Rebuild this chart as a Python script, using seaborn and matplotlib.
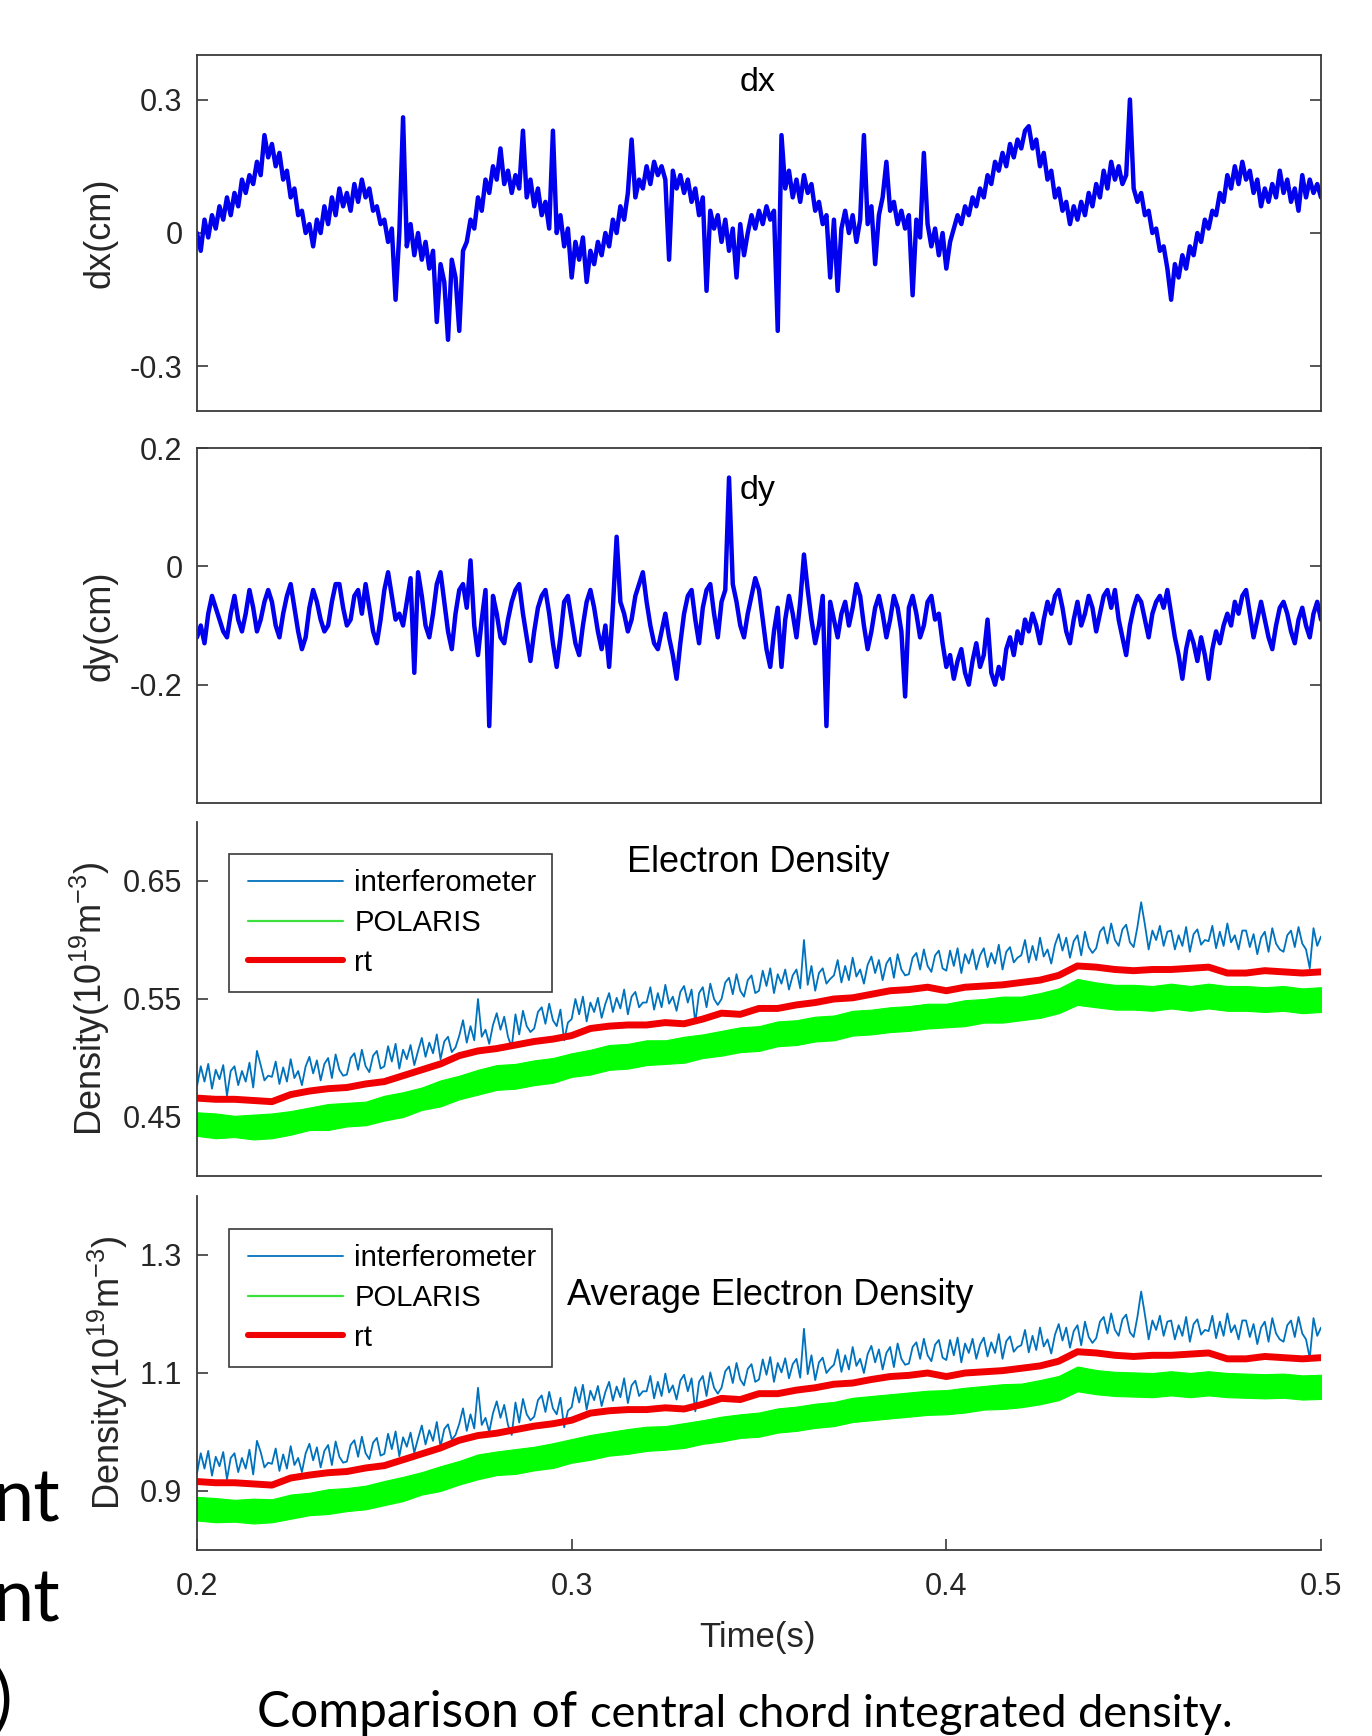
import numpy as np
import pandas as pd
import matplotlib
matplotlib.use("Agg")
import matplotlib.pyplot as plt
import seaborn as sns
from matplotlib.lines import Line2D
from matplotlib.legend_handler import HandlerLine2D

# ---------------- data ----------------
t_start, t_end = 0.2, 0.5

dx_cm = [
    0.00, -0.04, 0.03, -0.01, 0.04, 0.01, 0.06, 0.03, 0.08, 0.04,
    0.09, 0.06, 0.12, 0.09, 0.13, 0.11, 0.16, 0.13, 0.22, 0.17,
    0.20, 0.15, 0.18, 0.12, 0.14, 0.08, 0.10, 0.04, 0.05, 0.00,
    0.02, -0.03, 0.03, 0.00, 0.06, 0.02, 0.08, 0.04, 0.10, 0.06,
    0.09, 0.05, 0.11, 0.07, 0.12, 0.08, 0.10, 0.05, 0.06, 0.02,
    0.03, -0.02, 0.01, -0.15, 0.00, 0.26, -0.03, 0.02, -0.05, 0.00,
    -0.06, -0.02, -0.08, -0.04, -0.20, -0.07, -0.11, -0.24, -0.06, -0.10,
    -0.22, -0.04, -0.02, 0.03, 0.01, 0.08, 0.05, 0.12, 0.09, 0.15,
    0.12, 0.19, 0.11, 0.14, 0.09, 0.13, 0.10, 0.23, 0.08, 0.12,
    0.06, 0.10, 0.04, 0.07, 0.01, 0.23, 0.00, 0.04, -0.03, 0.01,
    -0.10, -0.02, -0.06, -0.01, -0.11, -0.04, -0.07, -0.02, -0.05, 0.00,
    -0.03, 0.03, 0.00, 0.06, 0.03, 0.09, 0.21, 0.08, 0.12, 0.10,
    0.15, 0.11, 0.16, 0.13, 0.15, 0.12, -0.06, 0.14, 0.10, 0.13,
    0.09, 0.12, 0.07, 0.10, 0.04, 0.08, -0.13, 0.05, 0.01, 0.04,
    -0.02, 0.03, -0.04, 0.01, -0.10, 0.02, -0.05, 0.00, 0.04, 0.01,
    0.05, 0.02, 0.06, 0.03, 0.05, -0.22, 0.22, 0.10, 0.14, 0.08,
    0.12, 0.07, 0.13, 0.09, 0.11, 0.05, 0.07, 0.02, 0.04, -0.10,
    0.03, -0.13, 0.01, 0.05, 0.00, 0.04, -0.02, 0.03, 0.22, 0.02,
    0.06, -0.07, 0.04, 0.08, 0.16, 0.05, 0.07, 0.02, 0.05, 0.01,
    0.04, -0.14, 0.03, -0.01, 0.18, 0.02, -0.03, 0.01, -0.05, 0.00,
    -0.08, -0.02, 0.01, 0.04, 0.02, 0.06, 0.04, 0.08, 0.06, 0.10,
    0.08, 0.13, 0.11, 0.16, 0.14, 0.18, 0.15, 0.20, 0.17, 0.21,
    0.19, 0.23, 0.24, 0.19, 0.21, 0.15, 0.18, 0.12, 0.14, 0.08,
    0.10, 0.05, 0.07, 0.02, 0.06, 0.03, 0.07, 0.04, 0.09, 0.06,
    0.11, 0.08, 0.14, 0.10, 0.16, 0.12, 0.15, 0.11, 0.13, 0.30,
    0.10, 0.07, 0.09, 0.04, 0.05, 0.00, 0.01, -0.04, -0.03, -0.08,
    -0.15, -0.07, -0.10, -0.05, -0.08, -0.03, -0.05, 0.00, -0.02, 0.03,
    0.01, 0.05, 0.04, 0.09, 0.07, 0.13, 0.10, 0.15, 0.11, 0.16,
    0.12, 0.14, 0.09, 0.12, 0.06, 0.10, 0.07, 0.11, 0.08, 0.14,
    0.09, 0.12, 0.07, 0.10, 0.05, 0.13, 0.08, 0.12, 0.09, 0.11,
    0.08,
]

dy_cm = [
    -0.12, -0.10, -0.13, -0.08, -0.05, -0.07, -0.09, -0.11, -0.12, -0.08,
    -0.05, -0.09, -0.11, -0.08, -0.04, -0.07, -0.11, -0.09, -0.06, -0.04,
    -0.06, -0.10, -0.12, -0.08, -0.05, -0.03, -0.07, -0.11, -0.14, -0.12,
    -0.07, -0.04, -0.06, -0.09, -0.11, -0.10, -0.06, -0.03, -0.03, -0.07,
    -0.10, -0.09, -0.05, -0.04, -0.08, -0.03, -0.07, -0.11, -0.13, -0.09,
    -0.04, -0.01, -0.05, -0.09, -0.08, -0.10, -0.06, -0.02, -0.18, -0.01,
    -0.05, -0.10, -0.12, -0.08, -0.03, -0.01, -0.06, -0.11, -0.14, -0.08,
    -0.04, -0.03, -0.07, 0.01, -0.10, -0.15, -0.09, -0.04, -0.27, -0.05,
    -0.08, -0.12, -0.13, -0.09, -0.06, -0.04, -0.03, -0.08, -0.12, -0.16,
    -0.11, -0.07, -0.05, -0.04, -0.08, -0.13, -0.17, -0.12, -0.06, -0.05,
    -0.09, -0.13, -0.15, -0.10, -0.06, -0.04, -0.07, -0.11, -0.14, -0.10,
    -0.17, -0.07, 0.05, -0.06, -0.08, -0.11, -0.09, -0.05, -0.03, -0.01,
    -0.06, -0.10, -0.13, -0.14, -0.11, -0.08, -0.12, -0.15, -0.19, -0.13,
    -0.08, -0.05, -0.04, -0.09, -0.13, -0.07, -0.04, -0.03, -0.08, -0.12,
    -0.06, -0.04, 0.15, -0.03, -0.06, -0.10, -0.12, -0.08, -0.05, -0.02,
    -0.04, -0.09, -0.14, -0.17, -0.11, -0.07, -0.17, -0.09, -0.05, -0.08,
    -0.12, -0.06, 0.02, -0.04, -0.09, -0.13, -0.10, -0.05, -0.27, -0.06,
    -0.09, -0.12, -0.08, -0.06, -0.10, -0.07, -0.03, -0.05, -0.10, -0.14,
    -0.11, -0.07, -0.05, -0.08, -0.12, -0.09, -0.05, -0.07, -0.11, -0.22,
    -0.07, -0.05, -0.08, -0.12, -0.10, -0.06, -0.05, -0.09, -0.08, -0.13,
    -0.17, -0.15, -0.19, -0.16, -0.14, -0.18, -0.20, -0.16, -0.13, -0.17,
    -0.15, -0.09, -0.18, -0.20, -0.17, -0.19, -0.14, -0.12, -0.15, -0.11,
    -0.13, -0.09, -0.11, -0.08, -0.10, -0.13, -0.09, -0.06, -0.08, -0.05,
    -0.04, -0.07, -0.11, -0.13, -0.09, -0.06, -0.10, -0.08, -0.05, -0.07,
    -0.11, -0.08, -0.05, -0.04, -0.07, -0.04, -0.09, -0.12, -0.15, -0.10,
    -0.07, -0.05, -0.06, -0.09, -0.12, -0.08, -0.06, -0.05, -0.07, -0.04,
    -0.08, -0.12, -0.15, -0.19, -0.14, -0.11, -0.13, -0.16, -0.12, -0.15,
    -0.19, -0.14, -0.11, -0.13, -0.10, -0.08, -0.10, -0.06, -0.08, -0.05,
    -0.04, -0.08, -0.12, -0.09, -0.06, -0.09, -0.12, -0.14, -0.10, -0.07,
    -0.06, -0.08, -0.11, -0.13, -0.09, -0.07, -0.10, -0.12, -0.08, -0.06,
    -0.09,
]

interferometer_central = [
    .476, .493, .480, .495, .474, .490, .482, .494, .468, .489,
    .493, .477, .489, .480, .496, .475, .506, .494, .481, .485,
    .484, .497, .478, .492, .480, .499, .483, .489, .477, .493,
    .501, .487, .498, .481, .495, .500, .483, .503, .490, .485,
    .486, .500, .504, .490, .507, .493, .488, .502, .506, .491,
    .493, .510, .497, .512, .491, .507, .499, .511, .494, .506,
    .517, .501, .513, .504, .520, .499, .514, .518, .505, .509,
    .519, .532, .513, .527, .515, .550, .518, .524, .512, .528,
    .538, .524, .535, .518, .509, .537, .520, .540, .527, .522,
    .525, .539, .543, .529, .546, .532, .527, .541, .515, .530,
    .533, .550, .537, .552, .531, .547, .539, .551, .534, .546,
    .555, .539, .551, .542, .558, .537, .552, .556, .543, .547,
    .547, .560, .541, .555, .543, .562, .546, .552, .540, .556,
    .561, .547, .558, .530, .555, .560, .543, .563, .550, .545,
    .550, .564, .568, .554, .571, .557, .552, .566, .570, .555,
    .557, .574, .561, .576, .555, .571, .563, .575, .558, .570,
    .575, .559, .600, .562, .578, .557, .572, .576, .563, .567,
    .570, .583, .564, .578, .566, .585, .569, .575, .563, .579,
    .586, .572, .583, .566, .580, .585, .568, .588, .575, .570,
    .571, .585, .589, .575, .592, .578, .573, .587, .591, .576,
    .574, .591, .578, .593, .572, .588, .580, .592, .575, .587,
    .593, .577, .589, .580, .596, .575, .590, .594, .581, .585,
    .587, .600, .581, .595, .583, .602, .586, .592, .580, .596,
    .605, .591, .602, .585, .599, .604, .587, .607, .594, .589,
    .593, .607, .611, .597, .614, .600, .595, .609, .613, .598,
    .594, .611, .632, .613, .592, .608, .600, .612, .595, .607,
    .608, .592, .604, .595, .611, .590, .605, .609, .596, .600,
    .599, .612, .593, .607, .595, .614, .598, .604, .592, .608,
    .608, .594, .605, .588, .602, .607, .590, .610, .597, .592,
    .590, .604, .608, .594, .611, .597, .592, .576, .610, .595,
    .603,
]

interferometer_average = [
    .930, .964, .938, .968, .926, .958, .942, .966, .920, .956,
    .964, .932, .956, .938, .970, .928, .985, .966, .940, .948,
    .946, .972, .934, .962, .938, .976, .944, .956, .932, .964,
    .980, .952, .974, .940, .968, .978, .944, .984, .958, .948,
    .950, .978, .986, .958, .992, .964, .954, .982, .990, .960,
    .963, .997, .971, 1.001, .959, .991, .975, .999, .965, .989,
    1.011, .979, 1.003, .985, 1.017, .975, 1.005, 1.013, .987, .995,
    1.014, 1.040, 1.002, 1.030, 1.006, 1.075, 1.012, 1.024, 1.000, 1.032,
    1.052, 1.024, 1.046, 1.012, .995, 1.050, 1.016, 1.056, 1.030, 1.020,
    1.026, 1.054, 1.062, 1.034, 1.068, 1.040, 1.030, 1.058, 1.008, 1.036,
    1.042, 1.076, 1.050, 1.080, 1.038, 1.070, 1.054, 1.078, 1.044, 1.068,
    1.085, 1.053, 1.077, 1.059, 1.091, 1.049, 1.079, 1.087, 1.061, 1.069,
    1.069, 1.095, 1.057, 1.085, 1.061, 1.099, 1.067, 1.079, 1.055, 1.087,
    1.097, 1.069, 1.091, 1.035, 1.085, 1.095, 1.061, 1.101, 1.075, 1.065,
    1.075, 1.103, 1.111, 1.083, 1.117, 1.089, 1.079, 1.107, 1.115, 1.085,
    1.089, 1.123, 1.097, 1.127, 1.085, 1.117, 1.101, 1.125, 1.091, 1.115,
    1.124, 1.092, 1.175, 1.098, 1.130, 1.088, 1.118, 1.126, 1.100, 1.108,
    1.114, 1.140, 1.102, 1.130, 1.106, 1.144, 1.112, 1.124, 1.100, 1.132,
    1.146, 1.118, 1.140, 1.106, 1.134, 1.144, 1.110, 1.150, 1.124, 1.114,
    1.116, 1.144, 1.152, 1.124, 1.158, 1.130, 1.120, 1.148, 1.156, 1.126,
    1.122, 1.156, 1.130, 1.160, 1.118, 1.150, 1.134, 1.158, 1.124, 1.148,
    1.160, 1.128, 1.152, 1.134, 1.166, 1.124, 1.154, 1.162, 1.136, 1.144,
    1.147, 1.173, 1.135, 1.163, 1.139, 1.177, 1.145, 1.157, 1.133, 1.165,
    1.183, 1.155, 1.177, 1.143, 1.171, 1.181, 1.147, 1.187, 1.161, 1.151,
    1.159, 1.187, 1.195, 1.167, 1.201, 1.173, 1.163, 1.191, 1.199, 1.169,
    1.161, 1.195, 1.238, 1.199, 1.157, 1.189, 1.173, 1.197, 1.163, 1.187,
    1.189, 1.157, 1.181, 1.163, 1.195, 1.153, 1.183, 1.191, 1.165, 1.173,
    1.171, 1.197, 1.159, 1.187, 1.163, 1.201, 1.169, 1.181, 1.157, 1.189,
    1.189, 1.161, 1.183, 1.149, 1.177, 1.187, 1.153, 1.193, 1.167, 1.157,
    1.153, 1.181, 1.189, 1.161, 1.195, 1.167, 1.157, 1.125, 1.193, 1.163,
    1.177,
]

rt_central = [
    .466, .465, .465, .464, .463, .469, .472, .474, .475, .478,
    .480, .485, .490, .495, .502, .506, .508, .511, .514, .516,
    .519, .525, .527, .528, .528, .530, .529, .533, .538, .537,
    .542, .542, .545, .547, .550, .551, .554, .557, .558, .560,
    .557, .560, .561, .562, .564, .566, .570, .578, .577, .575,
    .574, .575, .575, .576, .577, .572, .572, .574, .573, .572,
    .573,
]

rt_average = [
    .916, .914, .914, .912, .910, .922, .927, .931, .933, .939,
    .943, .953, .963, .973, .986, .994, .998, 1.004, 1.010, 1.014,
    1.020, 1.032, 1.036, 1.038, 1.038, 1.041, 1.039, 1.047, 1.057, 1.055,
    1.065, 1.065, 1.071, 1.075, 1.081, 1.083, 1.089, 1.094, 1.096, 1.100,
    1.094, 1.100, 1.102, 1.104, 1.108, 1.112, 1.120, 1.136, 1.134, 1.130,
    1.128, 1.130, 1.130, 1.132, 1.134, 1.124, 1.124, 1.128, 1.126, 1.124,
    1.126,
]

polaris_central_low = [
    .434, .432, .433, .431, .432, .435, .439, .439, .442, .443,
    .447, .450, .456, .459, .465, .469, .473, .474, .477, .479,
    .484, .486, .490, .491, .494, .495, .496, .500, .502, .505,
    .506, .510, .511, .514, .515, .519, .520, .522, .523, .525,
    .526, .527, .530, .530, .532, .534, .538, .545, .543, .541,
    .541, .540, .542, .540, .542, .540, .540, .539, .540, .538,
    .539,
]
polaris_central_high = [
    .454, .453, .451, .452, .453, .455, .458, .461, .462, .463,
    .468, .471, .475, .481, .485, .490, .494, .495, .498, .500,
    .504, .507, .511, .512, .515, .515, .518, .520, .523, .526,
    .527, .531, .532, .535, .536, .540, .541, .543, .544, .546,
    .546, .549, .550, .552, .552, .555, .559, .567, .564, .562,
    .562, .561, .563, .561, .563, .561, .561, .560, .561, .559,
    .560,
]

polaris_average_low = [
    .850, .847, .848, .845, .847, .853, .859, .861, .866, .869,
    .876, .883, .894, .900, .911, .920, .927, .929, .935, .939,
    .948, .953, .960, .963, .968, .970, .973, .980, .984, .990,
    .992, .999, 1.002, 1.007, 1.010, 1.017, 1.020, 1.023, 1.026, 1.029,
    1.030, 1.033, 1.038, 1.039, 1.042, 1.047, 1.054, 1.069, 1.064, 1.061,
    1.060, 1.059, 1.062, 1.059, 1.062, 1.059, 1.058, 1.057, 1.058, 1.055,
    1.056,
]
polaris_average_high = [
    .890, .888, .885, .887, .886, .894, .897, .903, .905, .909,
    .917, .924, .932, .942, .951, .962, .967, .971, .975, .981,
    .988, .995, 1.000, 1.005, 1.009, 1.010, 1.015, 1.020, 1.026, 1.030,
    1.033, 1.040, 1.043, 1.048, 1.051, 1.058, 1.061, 1.064, 1.067, 1.070,
    1.071, 1.075, 1.078, 1.081, 1.082, 1.088, 1.095, 1.111, 1.105, 1.102,
    1.101, 1.100, 1.103, 1.100, 1.103, 1.100, 1.099, 1.098, 1.099, 1.096,
    1.097,
]

x_tick_values = [0.2, 0.3, 0.4, 0.5]
x_tick_labels = ["0.2", "0.3", "0.4", "0.5"]
dx_ticks, dx_tick_labels = [-0.3, 0.0, 0.3], ["-0.3", "0", "0.3"]
dy_ticks, dy_tick_labels = [-0.2, 0.0, 0.2], ["-0.2", "0", "0.2"]
ne_ticks, ne_tick_labels = [0.45, 0.55, 0.65], ["0.45", "0.55", "0.65"]
avg_ticks, avg_tick_labels = [0.9, 1.1, 1.3], ["0.9", "1.1", "1.3"]
legend_labels = ["interferometer", "POLARIS", "rt"]

# ---------------- style ----------------
sns.set_theme(style="white")
plt.rcParams["font.family"] = ["Liberation Sans", "DejaVu Sans"]
plt.rcParams["mathtext.fontset"] = "custom"
plt.rcParams["mathtext.rm"] = "Liberation Sans"
plt.rcParams["mathtext.it"] = "Liberation Sans:italic"
plt.rcParams["mathtext.default"] = "regular"
plt.rcParams["axes.unicode_minus"] = False

SPINE = "#3a3a3a"
TXT = "#262626"
C_DX = "#0000EE"
C_INT = "#0072BD"
C_POL = "#00FF00"
C_RT = "#F00000"

FW, FH = 1372, 1736
fig = plt.figure(figsize=(FW / 100, FH / 100), dpi=100)
fig.patch.set_facecolor("white")

L = 197 / FW
W = 1124 / FW


def add_ax(top_px, bot_px):
    return fig.add_axes([L, 1 - bot_px / FH, W, (bot_px - top_px) / FH])


ax1 = add_ax(55, 411)
ax2 = add_ax(448, 803)
ax3 = add_ax(822, 1176)
ax4 = add_ax(1196, 1550)


def style_ax(ax, box):
    ax.set_facecolor("white")
    for name, sp in ax.spines.items():
        sp.set_color(SPINE)
        sp.set_linewidth(1.3)
    if not box:
        ax.spines["top"].set_visible(False)
        ax.spines["right"].set_visible(False)
    ax.tick_params(axis="y", which="both", direction="in", length=8, width=1.2,
                   color=SPINE, labelsize=22, labelcolor=TXT, pad=10.5,
                   left=True, right=box)
    ax.tick_params(axis="x", which="both", bottom=False, labelbottom=False, top=False)
    ax.set_xlim(t_start, t_end)
    ax.grid(False)


def tgrid(values):
    return np.linspace(t_start, t_end, len(values))


# ---- panel 1 : dx ----
df_dx = pd.DataFrame({"t": tgrid(dx_cm), "v": dx_cm})
sns.lineplot(data=df_dx, x="t", y="v", ax=ax1, color=C_DX, linewidth=3.2, legend=False)
style_ax(ax1, True)
ax1.set_ylim(-0.4, 0.4)
ax1.set_yticks(dx_ticks, dx_tick_labels)
ax1.set_xlabel("")
ax1.set_ylabel("dx(cm)", fontsize=26, color=TXT, va="center")
ax1.yaxis.set_label_coords(-0.0863, 0.5)
ax1.text(0.499, 0.922, "dx", transform=ax1.transAxes, ha="center", va="center",
         fontsize=24.5, color="black")

# ---- panel 2 : dy ----
df_dy = pd.DataFrame({"t": tgrid(dy_cm), "v": dy_cm})
sns.lineplot(data=df_dy, x="t", y="v", ax=ax2, color=C_DX, linewidth=3.2, legend=False)
style_ax(ax2, True)
ax2.set_ylim(-0.4, 0.2)
ax2.set_yticks(dy_ticks, dy_tick_labels)
ax2.set_xlabel("")
ax2.set_ylabel("dy(cm)", fontsize=26, color=TXT, va="center")
ax2.yaxis.set_label_coords(-0.0863, 0.5)
ax2.text(0.499, 0.88, "dy", transform=ax2.transAxes, ha="center", va="center",
         fontsize=24.5, color="black")


def density_panel(ax, interf, pol_low, pol_high, rt, ylim, ticks, tick_labels,
                  title, title_xy, label_x, legend_top):
    df_i = pd.DataFrame({"t": tgrid(interf), "v": interf})
    sns.lineplot(data=df_i, x="t", y="v", ax=ax, color=C_INT, linewidth=1.3, legend=False)
    ax.fill_between(tgrid(pol_low), pol_low, pol_high, color=C_POL, linewidth=0.8,
                    edgecolor=C_POL)
    df_r = pd.DataFrame({"t": tgrid(rt), "v": rt})
    sns.lineplot(data=df_r, x="t", y="v", ax=ax, color=C_RT, linewidth=5.0, legend=False)
    style_ax(ax, False)
    ax.set_ylim(*ylim)
    ax.set_yticks(ticks, tick_labels)
    ax.set_xlabel("")
    ax.set_ylabel(r"Density(10$^{19}$m$^{-3}$)", fontsize=26, color=TXT, va="center")
    ax.yaxis.set_label_coords(label_x, 0.5)
    ax.text(title_xy[0], title_xy[1], title, transform=ax.transAxes, ha="center",
            va="center", fontsize=26, color="black")
    handles = [Line2D([], [], color=C_INT, lw=1.3),
               Line2D([], [], color="#3ee03e", lw=1.6),
               Line2D([], [], color=C_RT, lw=4.4)]
    hmap = {h: HandlerLine2D(xpad=0.13) for h in handles}
    leg = ax.legend(handles, legend_labels, loc="upper left",
                    bbox_to_anchor=(0.0285, legend_top), bbox_transform=ax.transAxes,
                    fontsize=21.1, frameon=True, fancybox=False, shadow=False,
                    framealpha=1, edgecolor=SPINE, handlelength=3.38,
                    handletextpad=0.37, borderpad=0.52, labelspacing=0.4,
                    borderaxespad=0, handler_map=hmap)
    leg.get_frame().set_linewidth(1.2)
    for txt in leg.get_texts():
        txt.set_color("black")


density_panel(ax3, interferometer_central, polaris_central_low, polaris_central_high,
              rt_central, (0.40, 0.70), ne_ticks, ne_tick_labels, "Electron Density",
              (0.499, 0.887), -0.095, 0.910)
density_panel(ax4, interferometer_average, polaris_average_low, polaris_average_high,
              rt_average, (0.80, 1.40), avg_ticks, avg_tick_labels,
              "Average Electron Density", (0.51, 0.718), -0.079, 0.907)

ax4.set_xticks(x_tick_values, x_tick_labels)
ax4.tick_params(axis="x", which="both", bottom=True, labelbottom=True, direction="in",
                length=8, width=1.2, color=SPINE, labelsize=22, labelcolor=TXT, pad=16)

fig.text(757 / FW, 1 - 1638 / FH, "Time(s)", ha="center", va="center",
         fontsize=25, color=TXT)

# ---- caption and cropped slide text ----
fig.canvas.draw()
rend = fig.canvas.get_renderer()
cap_y = 1 - 1727 / FH
s1, s2 = 34.0, 31.0
t1 = fig.text(0, cap_y, "Comparison of ", fontsize=s1, family=["Lato", "DejaVu Sans"],
              ha="left", va="baseline", color="black")
t2 = fig.text(0, cap_y, "central chord integrated density.", fontsize=s2,
              family=["Lato", "DejaVu Sans"], ha="left", va="baseline", color="black")
w_tot = t1.get_window_extent(rend).width + t2.get_window_extent(rend).width
k = 975.0 / w_tot
t1.set_fontsize(s1 * k)
t2.set_fontsize(s2 * k)
w1 = t1.get_window_extent(rend).width
t1.set_x(257 / FW)
t2.set_x((257 + w1) / FW)

for base_px in (1522, 1621):
    fig.text(60 / FW, 1 - base_px / FH, "nt", fontsize=53, family=["Lato", "DejaVu Sans"],
             ha="right", va="baseline", color="black")
fig.text(12 / FW, 1 - 1722 / FH, ")", fontsize=50, family=["Lato", "DejaVu Sans"],
         ha="right", va="baseline", color="black")

fig.savefig("out.png", dpi=100, facecolor="white")
